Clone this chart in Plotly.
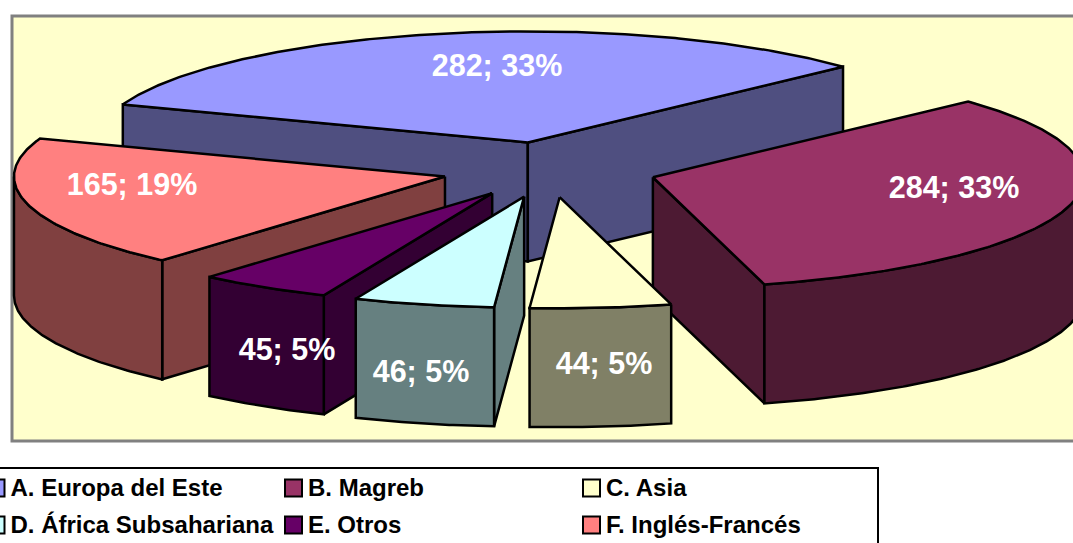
import math
import plotly.graph_objects as go

# Data
categories = ["A. Europa del Este", "B. Magreb", "C. Asia",
              "D. África Subsahariana", "E. Otros", "F. Inglés-Francés"]
values = [282, 284, 44, 46, 45, 165]
top_colors = ["#9999FF", "#993366", "#FFFFCC", "#CCFFFF", "#660066", "#FF8080"]
side_colors = ["#4F4F80", "#4D1A33", "#808066", "#668080", "#330033", "#804040"]

# Projection of the tilted, exploded pie (page pixels)
CX, CY, RX, RY = 549.3, 169.6, 431.0, 111.0
DEPTH, EXPLODE, START = 119.0, 0.25, -70.0
draw_order = [0, 1, 5, 4, 3, 2]
label_xy = [(497, 68), (954, 190), (604, 366), (421, 374), (287, 352), (132, 187)]
legend_xy = [(-4, 488), (293.5, 488), (591.5, 488), (-4, 525), (293.5, 525), (591.5, 525)]

total = sum(values)
fig = go.Figure()


def pt(ax, ay, t, r=1.0):
    a = math.radians(t)
    return ax + r * RX * math.sin(a), ay - r * RY * math.cos(a)


def poly(pts, color):
    fig.add_trace(go.Scatter(
        x=[p[0] for p in pts], y=[p[1] for p in pts], mode="lines", fill="toself",
        fillcolor=color, line=dict(color="black", width=2.5, shape="linear"),
        hoverinfo="skip", showlegend=False))


def arc(ax, ay, t0, t1):
    n = max(2, int(abs(t1 - t0) * 2))
    return [pt(ax, ay, t0 + (t1 - t0) * i / n) for i in range(n + 1)]


# Slice boundaries snap to whole degrees, as in the source chart
spans = []
acc = 0.0
for v in values:
    t0 = START + round(acc)
    acc += 360.0 * v / total
    spans.append((t0, START + round(acc)))

for i in draw_order:
    ts, te = spans[i]
    ax, ay = pt(CX, CY, (ts + te) / 2, EXPLODE)
    down = lambda p: (p[0], p[1] + DEPTH)
    apex = (ax, ay)
    if math.sin(math.radians(ts)) < 0:
        e = pt(ax, ay, ts)
        poly([apex, e, down(e), down(apex), apex], side_colors[i])
    if math.sin(math.radians(te)) > 0:
        e = pt(ax, ay, te)
        poly([apex, e, down(e), down(apex), apex], side_colors[i])
    w0, w1 = max(ts, 90.0), min(te, 270.0)
    if w1 > w0:
        a = arc(ax, ay, w0, w1)
        poly(a + [down(p) for p in reversed(a)] + [a[0]], side_colors[i])
    poly([apex] + arc(ax, ay, ts, te) + [apex], top_colors[i])

# Slice labels
fig.add_trace(go.Scatter(
    x=[p[0] for p in label_xy], y=[p[1] for p in label_xy], mode="text",
    text=[f"{v}; {round(100 * v / total)}%" for v in values],
    textposition="middle center", cliponaxis=False, hoverinfo="skip", showlegend=False,
    textfont=dict(family="Liberation Sans", size=30.5, color="white", weight="bold")))

# Legend labels
fig.add_trace(go.Scatter(
    x=[p[0] + 14.5 for p in legend_xy], y=[p[1] + 2 for p in legend_xy], mode="text",
    text=categories, textposition="middle right", cliponaxis=False,
    hoverinfo="skip", showlegend=False,
    textfont=dict(family="Liberation Sans", size=24, color="black", weight="bold")))

# Legend keys
key_shapes = [
    dict(type="rect", x0=x - 8.5, x1=x + 8.5, y0=y - 8.5, y1=y + 8.5, layer="above",
         fillcolor=c, line=dict(color="black", width=2))
    for (x, y), c in zip(legend_xy, top_colors)
]

fig.update_layout(
    width=1073, height=543, margin=dict(l=0, r=0, t=0, b=0),
    paper_bgcolor="white", plot_bgcolor="white",
    xaxis=dict(range=[0, 1073], visible=False, fixedrange=True),
    yaxis=dict(range=[543, 0], visible=False, fixedrange=True),
    shapes=[
        dict(type="rect", x0=12, y0=16, x1=1090, y1=441, layer="below",
             fillcolor="#FFFFCC", line=dict(color="#808080", width=3)),
        dict(type="rect", x0=-10, y0=468, x1=878, y1=560, layer="below",
             fillcolor="white", line=dict(color="black", width=2)),
    ] + key_shapes)
fig.write_html("out.html", config={"displayModeBar": False},
               post_script="document.body.style.margin='0';document.body.style.overflow='hidden';")
